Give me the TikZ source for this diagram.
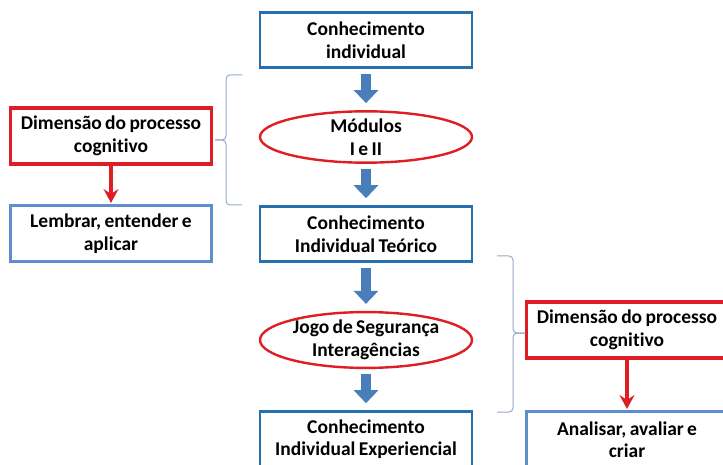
\documentclass[tikz,border=0pt]{standalone}
\usepackage{fontspec}
\setmainfont[Ligatures=NoCommon,WordSpace=0.75]{Carlito}
\usetikzlibrary{arrows.meta,shapes.geometric}

\definecolor{boxblue}{RGB}{38,112,178}
\definecolor{lightblue}{RGB}{95,142,205}
\definecolor{boxred}{RGB}{222,30,36}
\definecolor{arrowblue}{RGB}{74,126,187}
\definecolor{bracegray}{RGB}{150,170,200}

\begin{document}
\begin{tikzpicture}[x=1pt,y=-1pt,semithick,
                    font=\bfseries\fontsize{19.5}{22.5}\selectfont]
  \tikzstyle{ctbox}=[draw=boxblue,line width=2.6pt,fill=white,minimum width=212pt,
                     minimum height=55pt,inner sep=0pt,align=center]
  \tikzstyle{etapa}=[ellipse,draw=boxred,line width=2.4pt,minimum width=212pt,
                     minimum height=51pt,inner sep=0pt,align=center]
  \tikzstyle{dimbox}=[draw=boxred,line width=3.3pt,minimum width=201pt,
                      minimum height=56pt,inner sep=0pt,align=center]
  \tikzstyle{nivbox}=[dimbox,draw=lightblue,line width=3pt]
  \tikzstyle{bigarrow}=[arrowblue,line width=10pt,-{Triangle[width=24pt,length=13pt]},
                        shorten <=5pt,shorten >=7pt]
  \tikzstyle{redarrow}=[boxred,line width=3.2pt,
                        -{Stealth[length=14pt,width=15pt,inset=5pt]},
                        shorten <=0pt,shorten >=1pt]
  \tikzstyle{chave}=[bracegray,line width=1pt,rounded corners=4pt]

  \useasboundingbox (0,0) rectangle (723,465);

  % coluna central
  \node[ctbox] (ci)  at (366,40)  {Conhecimento\\individual};
  \node[etapa] (mod) at (366,137) {Módulos\\I e II};
  \node[ctbox] (cit) at (366,234) {Conhecimento\\Individual Teórico};
  \node[etapa] (jogo) at (366,340) {Jogo de Segurança\\Interagências};
  \node[ctbox] (cie) at (366,439) {Conhecimento\\Individual Experiencial};

  % dimensoes
  \node[dimbox] (dim1) at (111,136) {Dimensão do processo\\cognitivo};
  \node[nivbox] (niv1) at (111,233.5) {Lembrar, entender e\\aplicar};
  \node[dimbox] (dim2) at (627,330) {Dimensão do processo\\cognitivo};
  \node[nivbox] (niv2) at (627,439.5) {Analisar, avaliar e\\criar};

  \path (ci)   edge [bigarrow] (mod)
        (mod)  edge [bigarrow] (cit)
        (cit)  edge [bigarrow] (jogo)
        (jogo) edge [bigarrow] (cie)
        (dim1) edge [redarrow] (niv1)
        (dim2) edge [redarrow] (niv2);

  % chaves
  \coordinate (t1) at (215,140);
  \coordinate (t2) at (525,333);
  \draw[chave] (242,75) -- (226,75) -- (226,140) -- (t1);
  \draw[chave] (242,205) -- (226,205) -- (226,140) -- (t1);
  \draw[chave] (497,256) -- (513,256) -- (513,333) -- (t2);
  \draw[chave] (497,412) -- (513,412) -- (513,333) -- (t2);
\end{tikzpicture}
\end{document}
